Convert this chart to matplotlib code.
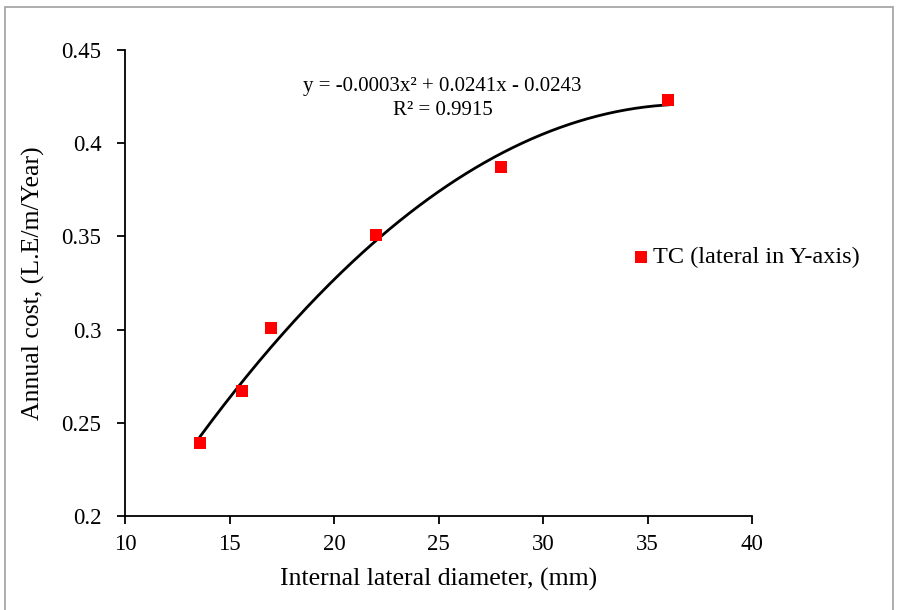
import numpy as np
import matplotlib.pyplot as plt
from matplotlib.patches import Rectangle

plt.rcParams['font.family'] = ['Liberation Serif', 'DejaVu Serif']

# data
diameter = [13.6, 15.6, 17.0, 22.0, 28.0, 36.0]
annual_cost = [0.239, 0.267, 0.301, 0.351, 0.387, 0.423]
series_name = "TC (lateral in Y-axis)"
eq_text = "y = -0.0003x² + 0.0241x - 0.0243"
r2_text = "R² = 0.9915"

fig = plt.figure(figsize=(8.97, 6.10), dpi=100)
ax = fig.add_axes([125 / 897, 1 - 516 / 610, (752 - 125) / 897, (516 - 50) / 610])

# polynomial trend line (order 2)
coef = np.polyfit(diameter, annual_cost, 2)
xs = np.linspace(min(diameter), max(diameter), 200)
ax.plot(xs, np.polyval(coef, xs), color="black", lw=2, zorder=2)

ax.scatter(diameter, annual_cost, marker="s", s=80, color="#ff0000", zorder=3,
           label=series_name, linewidths=0)

ax.set_xlim(10, 40)
ax.set_ylim(0.2, 0.45)
ax.set_xticks([10, 15, 20, 25, 30, 35, 40])
ax.set_yticks([0.2, 0.25, 0.3, 0.35, 0.4, 0.45])
ax.set_yticklabels(["0.2", "0.25", "0.3", "0.35", "0.4", "0.45"])
for s in ["top", "right"]:
    ax.spines[s].set_visible(False)
for s in ["left", "bottom"]:
    ax.spines[s].set_linewidth(1.3)
ax.tick_params(direction="out", length=6, width=1.3, labelsize=16.5)
ax.tick_params(axis="y", pad=11)
ax.tick_params(axis="x", pad=7)

ax.set_xlabel("Internal lateral diameter, (mm)", fontsize=18.5, labelpad=9)
ax.set_ylabel("Annual cost, (L.E/m/Year)", fontsize=18.5, labelpad=12)

ax.text(25.2, 0.4305, eq_text, ha="center", va="center", fontsize=15)
ax.text(25.2, 0.4178, r2_text, ha="center", va="center", fontsize=15)

ax.legend(loc="center left", bbox_to_anchor=(0.772, 0.555), frameon=False,
          fontsize=17.5, handletextpad=0.1, handlelength=0.8, markerscale=1.0)

fig.patches.append(Rectangle((5 / 897, -0.01), 1 - 9 / 897, 1 - 7 / 610 + 0.01,
                             transform=fig.transFigure, fill=False,
                             edgecolor="#a0a0a0", lw=1.2))

plt.savefig("out.png", dpi=100)
